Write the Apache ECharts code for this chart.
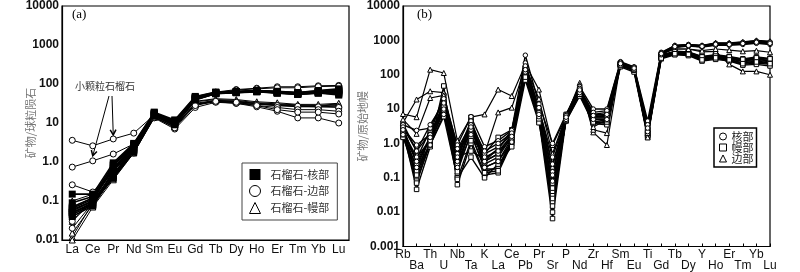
<!DOCTYPE html>
<html>
<head>
<meta charset="utf-8">
<script src="https://cdn.jsdelivr.net/npm/echarts@6/dist/echarts.min.js"></script>
<style>
html, body { margin: 0; padding: 0; background: #fff; }
#chart { width: 800px; height: 272px; }
</style>
</head>
<body>
<div id="chart"></div>
<script>
// 稀土元素 (a) 和 微量元素蛛网图 (b)
var reeCats = ['La', 'Ce', 'Pr', 'Nd', 'Sm', 'Eu', 'Gd', 'Tb', 'Dy', 'Ho', 'Er', 'Tm', 'Yb', 'Lu']
var spiderCats = ['Rb', 'Ba', 'Th', 'U', 'Nb', 'Ta', 'K', 'La', 'Ce', 'Pb', 'Pr', 'Sr', 'P', 'Nd',
  'Zr', 'Hf', 'Sm', 'Eu', 'Ti', 'Gd', 'Tb', 'Dy', 'Y', 'Ho', 'Er', 'Tm', 'Yb', 'Lu']
var yTicksA = ['0.01', '0.1', '1.0', '10', '100', '1000', '10000']
var yTicksB = ['0.001', '0.01', '0.1', '1.0', '10', '100', '1000', '10000']

// (a) 石榴石-核部
var coreA = [
  [0.15, 0.15, 0.95, 3.0, 19, 12, 48, 62, 64, 68, 64, 60, 68, 75],
  [0.06, 0.10, 0.80, 2.7, 18, 11, 45, 60, 63, 66, 62, 58, 64, 70],
  [0.045, 0.08, 0.60, 2.4, 17, 10, 42, 58, 62, 65, 60, 56, 62, 65],
  [0.07, 0.12, 0.70, 2.6, 17, 11, 44, 60, 62, 66, 62, 57, 63, 68],
  [0.04, 0.075, 0.45, 2.1, 16, 9.5, 40, 57, 60, 63, 58, 54, 58, 58],
  [0.05, 0.09, 0.38, 1.8, 15, 9, 40, 56, 60, 64, 60, 55, 60, 55],
  [0.09, 0.13, 0.85, 2.9, 18, 11.5, 46, 61, 64, 68, 65, 60, 66, 72],
  [0.055, 0.10, 0.50, 2.2, 16, 10, 42, 58, 61, 65, 61, 56, 62, 60],
  [0.065, 0.11, 0.65, 2.5, 17, 10.5, 43, 59, 63, 67, 63, 59, 65, 66],
  [0.05, 0.085, 0.42, 2.0, 15.5, 9.2, 39, 57, 61, 64, 59, 55, 59, 52]
]
// (a) 石榴石-边部
var rimA = [
  [3.6, 2.6, 3.9, 5.5, 16, 9, 30, 36, 33, 30, 28, 27, 26, 25],
  [0.74, 1.07, 1.6, 2.9, 15, 8.5, 30, 35, 32, 28, 25, 22, 22, 20],
  [0.26, 0.17, 0.6, 2.0, 16, 10, 45, 62, 72, 78, 85, 85, 90, 92],
  [0.07, 0.12, 0.7, 2.5, 17, 10, 44, 60, 70, 75, 80, 80, 86, 88],
  [0.03, 0.10, 0.4, 1.7, 13.5, 7, 25, 34, 32, 26, 20, 13.5, 13.5, 10],
  [0.02, 0.09, 0.45, 1.8, 14, 7.5, 28, 36, 34, 28, 22, 19, 19, 17]
]
// (a) 石榴石-幔部
var mantleA = [
  [0.1, 0.15, 0.6, 2.2, 16, 9, 35, 40, 38, 33, 31, 29, 28, 31],
  [0.012, 0.09, 0.5, 2.0, 15, 8.5, 32, 38, 36, 32, 30, 28, 27, 30],
  [0.015, 0.08, 0.4, 1.9, 14, 8, 30, 37, 35, 31, 29, 27, 27, 28],
  [0.03, 0.12, 0.6, 2.4, 16, 9.5, 36, 42, 40, 35, 33, 30, 30, 32],
  [0.01, 0.07, 0.35, 1.7, 14, 8, 30, 38, 36, 31, 28, 26, 26, 27]
]

// (b) 核部
var coreB = [
  [3.5, 2.4, 2.8, 20, 0.9, 6.0, 0.8, 1.2, 2.4, 370, 14, 1.0, 7.0, 45, 10, 10, 240, 170, 4.5, 450, 700, 760, 700, 820, 820, 880, 960, 900],
  [2.8, 0.9, 1.8, 12, 0.5, 4.5, 0.5, 0.8, 1.8, 220, 10, 0.4, 6.0, 38, 7, 8, 220, 160, 3.0, 420, 680, 720, 680, 780, 780, 830, 900, 850],
  [2.2, 0.4, 1.2, 9, 0.3, 2.5, 0.3, 0.5, 1.4, 160, 8, 0.15, 5.5, 34, 6, 6, 200, 150, 2.6, 400, 650, 700, 650, 760, 750, 800, 860, 800],
  [1.8, 0.2, 0.9, 7, 0.2, 1.8, 0.2, 0.3, 1.1, 120, 6, 0.08, 5.0, 30, 5, 5, 190, 140, 2.2, 380, 620, 680, 640, 720, 720, 760, 820, 760],
  [3.0, 0.6, 3.5, 15, 0.7, 3.5, 0.6, 1.0, 2.0, 180, 11, 0.25, 6.5, 40, 8, 9, 230, 165, 3.5, 430, 700, 740, 700, 800, 800, 850, 920, 880],
  [2.5, 0.3, 1.5, 10, 0.4, 3.0, 0.4, 0.6, 1.6, 140, 7, 0.12, 5.8, 36, 6.5, 7, 210, 155, 2.8, 410, 660, 710, 670, 770, 760, 810, 880, 820]
]
// (b) 幔部
var mantleB = [
  [2.5, 0.046, 0.8, 47, 0.063, 1.0, 0.12, 0.14, 1.0, 90, 5, 0.0065, 5.0, 28, 4, 4, 190, 140, 1.6, 300, 420, 400, 280, 320, 280, 220, 250, 220],
  [3.2, 0.1, 1.2, 18, 0.12, 5.8, 0.15, 0.2, 1.3, 100, 6, 0.02, 5.5, 30, 5, 5, 200, 150, 2.0, 330, 440, 420, 300, 340, 300, 250, 280, 250],
  [2.0, 0.2, 1.5, 12, 0.2, 3.0, 0.25, 0.4, 1.6, 110, 7, 0.04, 6.0, 33, 6, 6, 210, 145, 2.4, 350, 460, 440, 320, 360, 320, 270, 300, 280],
  [1.6, 0.35, 2.5, 8, 0.4, 0.6, 0.35, 0.7, 2.0, 80, 4.6, 0.07, 4.6, 26, 4.5, 3.8, 180, 130, 1.8, 310, 400, 380, 260, 300, 260, 200, 220, 200],
  [3.8, 0.6, 2.0, 25, 0.8, 1.5, 0.5, 1.5, 2.5, 130, 9, 0.12, 7.0, 36, 7, 7, 220, 155, 3.0, 380, 480, 460, 340, 380, 340, 290, 330, 300],
  [1.5, 0.15, 0.9, 6, 0.1, 0.4, 0.1, 0.25, 0.8, 70, 4.0, 0.03, 4.5, 24, 3.8, 3.5, 170, 120, 1.5, 290, 380, 360, 250, 280, 250, 190, 200, 180],
  [2.7, 0.08, 1.0, 10, 0.15, 2.0, 0.18, 0.18, 1.2, 95, 5.5, 0.015, 5.2, 29, 5, 4.5, 195, 138, 2.1, 320, 430, 410, 290, 330, 290, 240, 260, 240],
  [2.2, 0.12, 1.8, 14, 0.3, 4.5, 0.2, 0.3, 1.4, 105, 6.5, 0.01, 5.8, 31, 5.5, 5.5, 205, 148, 2.2, 340, 450, 430, 310, 350, 310, 260, 290, 260],
  [3.0, 0.25, 1.4, 16, 0.25, 2.5, 0.3, 0.5, 1.8, 115, 7.5, 0.05, 6.2, 34, 6.2, 6.5, 212, 152, 2.6, 360, 470, 450, 330, 370, 330, 280, 310, 290],
  [1.8, 0.07, 1.1, 9, 0.09, 1.2, 0.14, 0.16, 1.1, 85, 5.2, 0.025, 4.8, 27, 4.2, 4.2, 185, 135, 1.7, 305, 410, 390, 270, 310, 270, 210, 235, 210]
]
// (b) 边部
var rimB = [
  [7.2, 5.8, 140, 112, 1.2, 5.8, 7.0, 37, 24, 200, 37, 0.9, 6.0, 58, 2.1, 0.9, 210, 150, 1.5, 400, 560, 560, 460, 480, 200, 125, 125, 100],
  [4.0, 19, 33, 30, 0.5, 3.0, 0.5, 8, 11, 170, 20, 0.5, 6.5, 50, 2.5, 2.0, 220, 150, 2.0, 420, 560, 560, 500, 560, 520, 480, 500, 450],
  [5.0, 1.9, 21, 25, 0.4, 4.0, 0.3, 0.7, 2.5, 150, 9, 0.21, 6.0, 42, 3.0, 5.0, 200, 140, 2.5, 400, 720, 760, 720, 850, 850, 900, 1000, 950]
]

var myChart = echarts.init(document.getElementById('chart'))

function makeSeries(rows, name, idx, symbol, size, filled, lw) {
  return rows.map(function (row) {
    return {
      name: name,
      type: 'line',
      xAxisIndex: idx,
      yAxisIndex: idx,
      data: row,
      symbol: symbol,
      symbolSize: size,
      showAllSymbol: true,
      animation: false,
      emphasis: { disabled: true },
      lineStyle: { color: '#000', width: lw },
      itemStyle: filled ? { color: '#000' } : { color: '#fff', borderColor: '#000', borderWidth: 1 }
    }
  })
}

function logLabel(list, base) {
  return function (v) {
    return list[Math.round(Math.log10(v)) - base]
  }
}

var hollow = { color: '#fff', borderColor: '#000', borderWidth: 1 }

var option = {
  animation: false,
  grid: [
    { left: 62, top: 5, width: 287, height: 235, show: true, borderColor: '#000', borderWidth: 1.2 },
    { left: 403, top: 4, width: 367, height: 243, show: true, borderColor: '#000', borderWidth: 1.2 }
  ],
  legend: [
    {
      orient: 'vertical',
      left: 242,
      top: 163,
      padding: [6, 8, 6, 7],
      itemGap: 5,
      itemWidth: 11,
      itemHeight: 11,
      borderColor: '#444',
      borderWidth: 1,
      selectedMode: false,
      textStyle: { fontSize: 11, color: '#333', fontFamily: 'Noto Sans CJK SC', padding: [0, 0, 0, 5] },
      data: [
        { name: '石榴石-核部', icon: 'rect', itemStyle: { color: '#000' } },
        { name: '石榴石-边部', icon: 'circle', itemStyle: hollow },
        { name: '石榴石-幔部', icon: 'triangle', itemStyle: hollow }
      ]
    },
    {
      orient: 'vertical',
      left: 714,
      top: 128,
      padding: [3, 3, 3, 5],
      itemGap: 0,
      itemWidth: 7,
      itemHeight: 7,
      borderColor: '#000',
      borderWidth: 1.5,
      selectedMode: false,
      textStyle: { fontSize: 11, lineHeight: 10, color: '#222', fontFamily: 'Noto Sans CJK SC' },
      data: [
        { name: '核部', icon: 'circle', itemStyle: hollow },
        { name: '幔部', icon: 'rect', itemStyle: hollow },
        { name: '边部', icon: 'triangle', itemStyle: hollow }
      ]
    }
  ],
  xAxis: [
    {
      type: 'category',
      gridIndex: 0,
      data: reeCats,
      boundaryGap: true,
      axisLine: { lineStyle: { color: '#000', width: 1.2 } },
      axisTick: { inside: true, length: 3, lineStyle: { color: '#000' } },
      axisLabel: { interval: 0, margin: 4, fontSize: 12, color: '#111', fontFamily: 'Liberation Sans' }
    },
    {
      type: 'category',
      gridIndex: 1,
      data: spiderCats,
      boundaryGap: false,
      axisLine: { lineStyle: { color: '#000', width: 1.2 } },
      axisTick: { inside: true, length: 3, lineStyle: { color: '#000' } },
      axisLabel: {
        interval: 0,
        margin: 3,
        fontSize: 12,
        lineHeight: 11,
        color: '#111',
        fontFamily: 'Liberation Sans',
        formatter: function (v, i) { return i % 2 ? '\n' + v : v }
      }
    }
  ],
  yAxis: [
    {
      type: 'log',
      gridIndex: 0,
      logBase: 10,
      min: 0.01,
      max: 10000,
      name: '矿物/球粒陨石',
      nameLocation: 'middle',
      nameGap: 26,
      nameMoveOverlap: false,
      nameTextStyle: { fontSize: 11, color: '#777', fontFamily: 'Noto Sans CJK SC' },
      splitLine: { show: false },
      axisLine: { show: true, lineStyle: { color: '#000', width: 1.2 } },
      axisTick: { inside: true, length: 4, lineStyle: { color: '#000' } },
      axisLabel: { margin: 3, fontSize: 12, fontWeight: 'bold', color: '#111', fontFamily: 'Liberation Sans', formatter: logLabel(yTicksA, -2) }
    },
    {
      type: 'log',
      gridIndex: 1,
      logBase: 10,
      min: 0.001,
      max: 10000,
      name: '矿物/原始地幔',
      nameLocation: 'middle',
      nameGap: 35,
      nameMoveOverlap: false,
      nameTextStyle: { fontSize: 11, color: '#777', fontFamily: 'Noto Sans CJK SC' },
      splitLine: { show: false },
      axisLine: { show: true, lineStyle: { color: '#000', width: 1.2 } },
      axisTick: { inside: true, length: 4, lineStyle: { color: '#000' } },
      axisLabel: { margin: 3, fontSize: 12, fontWeight: 'bold', color: '#111', fontFamily: 'Liberation Sans', formatter: logLabel(yTicksB, -3) }
    }
  ],
  series: [].concat(
    makeSeries(mantleA, '石榴石-幔部', 0, 'triangle', 6, false, 1),
    makeSeries(rimA, '石榴石-边部', 0, 'circle', 6, false, 1),
    makeSeries(coreA, '石榴石-核部', 0, 'rect', 7, true, 1.6),
    makeSeries(mantleB, '幔部', 1, 'rect', 4.5, false, 1.4),
    makeSeries(rimB, '边部', 1, 'triangle', 5, false, 1.2),
    makeSeries(coreB, '核部', 1, 'circle', 4.5, false, 1.4)
  )
}

myChart.setOption(option)

// 小颗粒石榴石 箭头, 指向数据点
function arrow(x1, y1, x2, y2) {
  var a = Math.atan2(y2 - y1, x2 - x1)
  var h = 6
  var p1 = [x2 - h * Math.cos(a - 0.5), y2 - h * Math.sin(a - 0.5)]
  var p2 = [x2 - h * Math.cos(a + 0.5), y2 - h * Math.sin(a + 0.5)]
  return [
    { type: 'line', shape: { x1: x1, y1: y1, x2: x2, y2: y2 }, style: { stroke: '#000', lineWidth: 1 } },
    { type: 'polyline', shape: { points: [p1, [x2, y2], p2] }, style: { stroke: '#000', lineWidth: 1.5, fill: null } }
  ]
}
var tip1 = myChart.convertToPixel({ xAxisIndex: 0, yAxisIndex: 0 }, [1, rimA[1][1]])
var tip2 = myChart.convertToPixel({ xAxisIndex: 0, yAxisIndex: 0 }, [2, rimA[0][2]])

myChart.setOption({
  graphic: [
    { type: 'text', left: 72, top: 8, style: { text: '(a)', fontSize: 13, fontFamily: 'Liberation Serif', fill: '#000' } },
    { type: 'text', left: 417, top: 8, style: { text: '(b)', fontSize: 13, fontFamily: 'Liberation Serif', fill: '#000' } },
    { type: 'text', left: 75, top: 81, style: { text: '小颗粒石榴石', fontSize: 10, fontFamily: 'Noto Sans CJK SC', fill: '#333' } }
  ].concat(
    arrow(109, 96, tip1[0], tip1[1] - 5),
    arrow(112, 96, tip2[0], tip2[1] - 4)
  )
})
</script>
</body>
</html>
